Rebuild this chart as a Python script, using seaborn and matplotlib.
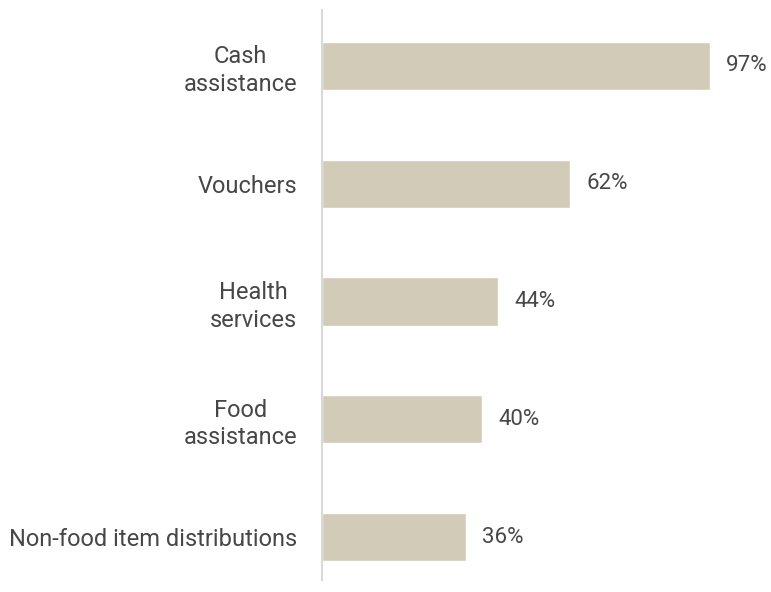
import matplotlib
matplotlib.use("Agg")
import matplotlib.pyplot as plt
import seaborn as sns
import pandas as pd

categories = ["Cash\nassistance", "Vouchers", "Health\nservices", "Food\nassistance",
              "Non-food item distributions"]
values = [97, 62, 44, 40, 36]

BAR_COLOR = "#D1CBB8"
TEXT_COLOR = "#474747"

sns.set_style("white")
plt.rcParams['font.family'] = ['Roboto', 'DejaVu Sans']

df = pd.DataFrame({"category": categories, "value": values})

fig = plt.figure(figsize=(7.71, 5.92), dpi=100)
ax = fig.add_axes([0.4176, 0.0203, 0.5189, 0.9628])
sns.barplot(data=df, x="value", y="category", color=BAR_COLOR, width=0.41,
            saturation=1, ax=ax)

ax.set_xlim(0, 100)
ax.set_ylim(4.364, -0.475)
ax.set_xlabel("")
ax.set_ylabel("")
ax.set_xticks([])
for side in ["top", "right", "bottom"]:
    ax.spines[side].set_visible(False)
ax.spines["left"].set_color("#D9D9D9")
ax.spines["left"].set_linewidth(1.5)

ax.tick_params(axis="y", length=0, pad=18)
for lbl in ax.get_yticklabels():
    lbl.set_fontsize(17)
    lbl.set_color(TEXT_COLOR)
    lbl.set_multialignment("center")
    lbl.set_linespacing(1.25)

for i, v in enumerate(values):
    ax.text(v + 4, i, f"{v}%", va="center", ha="left", fontsize=16,
            color=TEXT_COLOR, clip_on=False)

fig.savefig("out.png", dpi=100)
